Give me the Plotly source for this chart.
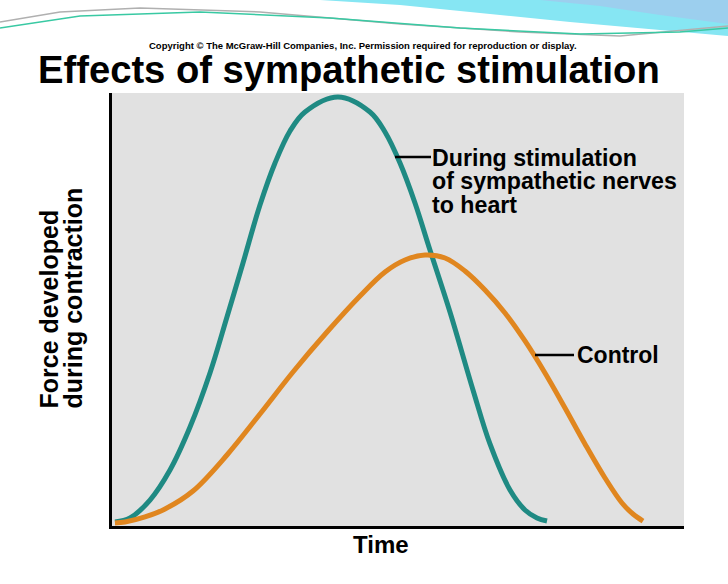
import plotly.graph_objects as go

# ---------------- data ----------------
time_stim = [0.52, 3.15, 6.64, 10.14, 13.64, 17.13, 20.10, 22.90, 25.87, 28.50,
             31.12, 33.74, 39.51, 45.10, 47.73, 50.35, 52.97, 55.59, 59.09,
             63.11, 66.08, 69.58, 72.20, 74.30, 76.05]
force_stim = [0.92, 1.85, 6.00, 12.93, 22.86, 35.33, 48.27, 60.74, 74.13, 83.83,
              91.22, 95.61, 99.08, 95.61, 90.99, 83.83, 74.60, 63.74, 49.42,
              31.41, 18.94, 8.31, 3.70, 1.85, 1.15]

time_ctrl = [0.52, 2.27, 5.77, 9.27, 14.16, 20.10, 25.87, 31.64, 37.59, 43.36,
             47.73, 51.22, 54.72, 58.22, 61.71, 65.21, 68.71, 72.20, 75.70,
             79.20, 82.69, 86.19, 89.16, 91.08, 92.83]
force_ctrl = [0.69, 0.92, 2.08, 3.93, 8.08, 16.40, 25.87, 35.57, 44.80, 53.12,
              58.66, 61.43, 62.59, 61.89, 58.89, 54.50, 49.19, 42.73, 35.33,
              27.25, 18.94, 11.09, 5.31, 2.77, 1.15]

title_text = "Effects of sympathetic stimulation"
copyright_text = ("Copyright \u00a9 The McGraw-Hill Companies, Inc. "
                  "Permission required for reproduction or display.")
y_label_lines = ["Force developed", "during contraction"]
x_label = "Time"
stim_label_lines = ["During stimulation", "of sympathetic nerves", "to heart"]
ctrl_label = "Control"

TEAL = "#1f8a83"
ORANGE = "#e0861f"
FONT = "Liberation Sans, Arial, Helvetica, sans-serif"

# ---------------- layout geometry (pixels) ----------------
W, H = 728, 584
L, R, T, B = 112, 684, 93, 526


def px(x, y):
    """pixel -> paper coordinates (for decorations / text placement)"""
    return (x - L) / (R - L), (B - y) / (B - T)


fig = go.Figure()
fig.add_trace(go.Scatter(x=time_stim, y=force_stim, mode="lines",
                         line=dict(color=TEAL, width=5, shape="spline", smoothing=1.0),
                         hoverinfo="skip", showlegend=False))
fig.add_trace(go.Scatter(x=time_ctrl, y=force_ctrl, mode="lines",
                         line=dict(color=ORANGE, width=5, shape="spline", smoothing=1.0),
                         hoverinfo="skip", showlegend=False))

annotations = []


def txt(text, x, y, size, xanchor="left", yanchor="middle", angle=0, bold=True):
    px_x, px_y = px(x, y)
    annotations.append(dict(
        text=f"<b>{text}</b>" if bold else text, x=px_x, y=px_y,
        xref="paper", yref="paper", showarrow=False, xanchor=xanchor,
        yanchor=yanchor, textangle=angle,
        font=dict(family=FONT, size=size, color="black")))


txt(title_text, 36, 70, 38.2)
txt(copyright_text, 363, 45, 9.5, xanchor="center")
txt(x_label, 381, 544, 24, xanchor="center")
txt(y_label_lines[0], 48, 411, 25, xanchor="center", yanchor="bottom", angle=-90)
txt(y_label_lines[1], 72, 411, 25, xanchor="center", yanchor="bottom", angle=-90)
for i, line in enumerate(stim_label_lines):
    txt(line, 430, 158 + i * 23.5, 23.2)
txt(ctrl_label, 575, 355, 23)

shapes = []
# leader lines
for (x0, y0, x1, y1) in [(395, 157, 431, 157), (535, 355, 574, 355)]:
    a, b = px(x0, y0)
    c, d = px(x1, y1)
    shapes.append(dict(type="line", xref="paper", yref="paper", x0=a, y0=b,
                       x1=c, y1=d, line=dict(color="black", width=2.5)))


def path(points, close=True):
    segs = []
    for i, (x, y) in enumerate(points):
        a, b = px(x, y)
        segs.append(("M" if i == 0 else "L") + f"{a:.4f},{b:.4f}")
    return " ".join(segs) + (" Z" if close else "")


# decorative swoosh at top of slide
shapes.append(dict(type="path", xref="paper", yref="paper", layer="below",
                   path=path([(320, 0), (728, 0), (728, 36), (660, 30), (570, 22),
                              (480, 13), (400, 5)]),
                   fillcolor="#86e6f3", line=dict(width=0)))
shapes.append(dict(type="path", xref="paper", yref="paper", layer="below",
                   path=path([(540, 0), (728, 0), (728, 24), (660, 15), (600, 6)]),
                   fillcolor="#9ccfee", line=dict(width=0)))
shapes.append(dict(type="path", xref="paper", yref="paper", layer="below",
                   path=path([(0, 22), (60, 12), (140, 8), (260, 12), (400, 24),
                              (520, 32), (620, 36), (728, 26)], close=False),
                   line=dict(color="#b0b0b0", width=1.5)))
shapes.append(dict(type="path", xref="paper", yref="paper", layer="below",
                   path=path([(0, 28), (80, 16), (200, 12), (330, 18), (460, 28),
                              (580, 34), (680, 32), (728, 28)], close=False),
                   line=dict(color="#39c9a3", width=1.5)))

fig.update_layout(
    width=W, height=H,
    margin=dict(l=L, r=W - R, t=T, b=H - B, pad=0),
    paper_bgcolor="white", plot_bgcolor="#e1e1e1",
    annotations=annotations, shapes=shapes,
    xaxis=dict(range=[0, 100], showgrid=False, zeroline=False, showticklabels=False,
               ticks="", showline=True, linecolor="black", linewidth=3, fixedrange=True),
    yaxis=dict(range=[0, 100], showgrid=False, zeroline=False, showticklabels=False,
               ticks="", showline=True, linecolor="black", linewidth=3, fixedrange=True),
    font=dict(family=FONT),
)

fig.write_html("out.html", config={"displayModeBar": False},
               post_script="document.body.style.margin='0';")
